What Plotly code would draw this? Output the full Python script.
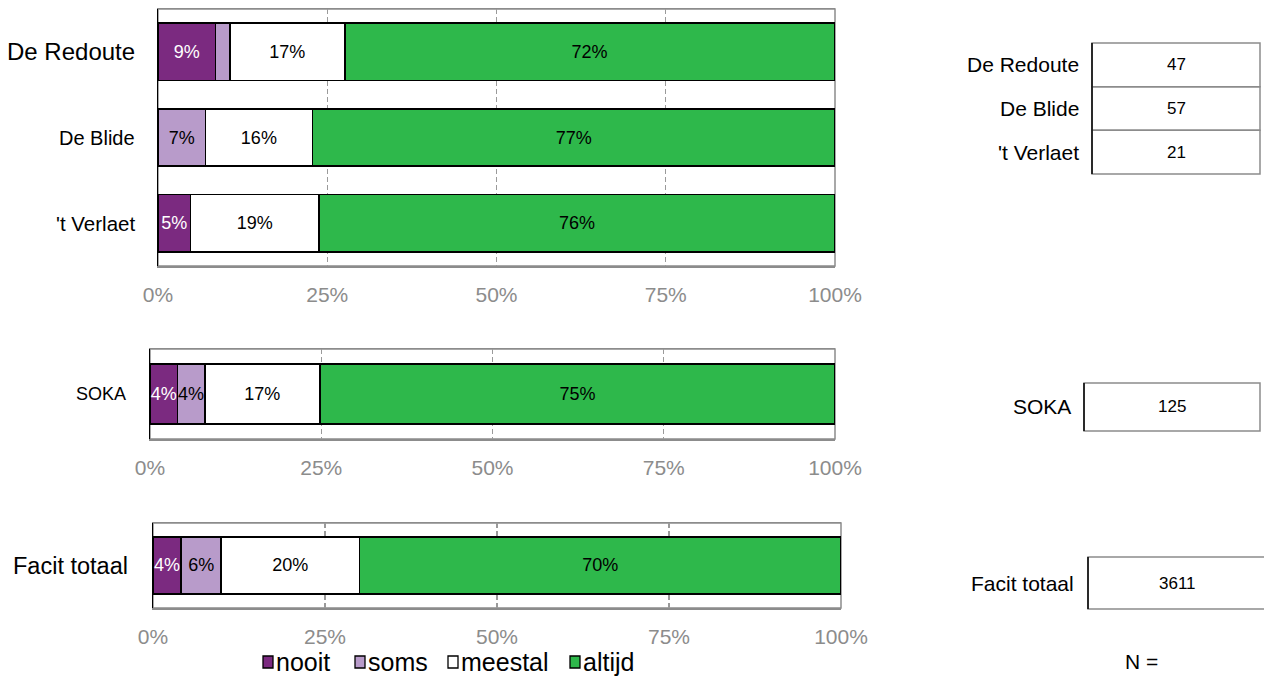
import plotly.graph_objects as go

# ---------------- data ----------------
series = ["nooit", "soms", "meestal", "altijd"]

groups_top = ["De Redoute", "De Blide", "'t Verlaet"]
top_nooit = [8.5, 0.0, 4.8]
top_soms = [2.1, 7.0, 0.0]
top_meestal = [17.0, 15.8, 19.0]
top_altijd = [72.3, 77.2, 76.2]

groups_soka = ["SOKA"]
soka_nooit = [4.0]
soka_soms = [4.0]
soka_meestal = [16.8]
soka_altijd = [75.2]

groups_facit = ["Facit totaal"]
facit_nooit = [4.1]
facit_soms = [5.8]
facit_meestal = [20.1]
facit_altijd = [70.0]

n_top = [47, 57, 21]
n_soka = [125]
n_facit = [3611]

tick_vals = [0, 25, 50, 75, 100]
tick_text = ["0%", "25%", "50%", "75%", "100%"]

# ---------------- style ----------------
colors = ["#7B2A80", "#B89BCA", "#FFFFFF", "#2EB84B"]
text_colors = ["white", "black", "black", "black"]
FONT = "Liberation Sans, Arial, sans-serif"
label_sizes = {"De Redoute": 24, "De Blide": 20, "'t Verlaet": 20.5,
               "SOKA": 18, "Facit totaal": 23.5}

W, H = 1264, 695
def px(x):
    return x / W
def py(y):
    return 1 - y / H

fig = go.Figure()

panels = [
    (groups_top, [top_nooit, top_soms, top_meestal, top_altijd], "", 21),
    (groups_soka, [soka_nooit, soka_soms, soka_meestal, soka_altijd], "2", 22),
    (groups_facit, [facit_nooit, facit_soms, facit_meestal, facit_altijd], "3", 23),
]

def lab(v):
    return f"{round(v + 1e-9):.0f}%" if v >= 3 else ""

annotations = []
for pi, (cats, vals, sx, gap) in enumerate(panels):
    for si, name in enumerate(series):
        fig.add_trace(go.Bar(
            y=cats, x=vals[si], orientation="h", name=name,
            marker=dict(color=colors[si], line=dict(color="black", width=1.5)),
            text=[lab(v) for v in vals[si]],
            textposition="inside", insidetextanchor="middle", textangle=0,
            insidetextfont=dict(color=text_colors[si], size=18, family=FONT),
            xaxis="x" + sx, yaxis="y" + sx, showlegend=False,
            hoverinfo="skip",
        ))
    for c in cats:
        annotations.append(dict(xref=f"x{sx} domain", yref="y" + sx, x=0, y=c,
                                xshift=-gap, xanchor="right", yanchor="middle",
                                text=c, showarrow=False,
                                font=dict(size=label_sizes[c], color="black", family=FONT)))

frame_col = "#8C8C8C"
axis_common_x = dict(range=[0, 100], tickvals=tick_vals, ticktext=tick_text,
                     showgrid=True, gridcolor="#9A9A9A", griddash="5px,3px", gridwidth=1.3,
                     showline=True, linecolor=frame_col, linewidth=1.5, mirror=True,
                     ticks="", ticklabelstandoff=9, zeroline=False, automargin=False,
                     tickfont=dict(size=21, color="#8C8C8C", family=FONT),
                     fixedrange=True)
axis_common_y = dict(showline=True, linecolor="black", linewidth=1.5, ticks="",
                     showticklabels=False, showgrid=False, autorange="reversed",
                     automargin=False, fixedrange=True)

doms = [
    ([px(158), px(835)], [py(266), py(9)]),
    ([px(150), px(835)], [py(439), py(349)]),
    ([px(153), px(841)], [py(608), py(523)]),
]

layout_axes = {}
for i, (dx, dy) in enumerate(doms):
    sx = "" if i == 0 else str(i + 1)
    layout_axes[f"xaxis{sx}"] = dict(domain=dx, anchor=f"y{sx}", **axis_common_x)
    layout_axes[f"yaxis{sx}"] = dict(domain=dy, anchor=f"x{sx}", **axis_common_y)

shapes = []
for i in range(3):
    sx = "" if i == 0 else str(i + 1)
    shapes.append(dict(type="rect", xref=f"x{sx} domain", yref=f"y{sx} domain",
                       x0=0, x1=1, y0=0, y1=1, line=dict(color=frame_col, width=1.5),
                       layer="below"))

# N tables
def table(labels, values, x0, x1, y0, y1, label_right):
    rows = len(values)
    h = (y1 - y0) / rows
    for r in range(rows):
        ry0 = y0 + r * h
        ry1 = ry0 + h
        shapes.append(dict(type="rect", xref="paper", yref="paper",
                           x0=px(x0), x1=px(x1), y0=py(ry1), y1=py(ry0),
                           line=dict(color=frame_col, width=1.5)))
        annotations.append(dict(xref="paper", yref="paper", x=px((x0 + x1) / 2),
                                y=py((ry0 + ry1) / 2), text=str(values[r]), showarrow=False,
                                font=dict(size=17, color="black", family=FONT),
                                xanchor="center", yanchor="middle"))
        annotations.append(dict(xref="paper", yref="paper", x=px(label_right),
                                y=py((ry0 + ry1) / 2), text=labels[r], showarrow=False,
                                font=dict(size=21, color="black", family=FONT),
                                xanchor="right", yanchor="middle"))
    shapes.append(dict(type="line", xref="paper", yref="paper",
                       x0=px(x0), x1=px(x0), y0=py(y1), y1=py(y0),
                       line=dict(color="black", width=1.5)))

table(groups_top, n_top, 1092, 1260, 43, 174, 1081)
table(groups_soka, n_soka, 1084, 1260, 383, 431, 1073)
table(groups_facit, n_facit, 1088, 1266, 557, 609, 1076)

annotations.append(dict(xref="paper", yref="paper", x=px(1141), y=py(661), text="N =",
                        showarrow=False, font=dict(size=21, color="black", family=FONT),
                        xanchor="center", yanchor="middle"))

# compact legend (Excel-like)
legend_x = [263, 355, 448, 570]
legend_y = 662
for si, name in enumerate(series):
    x0 = legend_x[si]
    shapes.append(dict(type="rect", xref="paper", yref="paper",
                       x0=px(x0), x1=px(x0 + 10), y0=py(legend_y + 6), y1=py(legend_y - 6),
                       fillcolor=colors[si], line=dict(color="black", width=1.3)))
    annotations.append(dict(xref="paper", yref="paper", x=px(x0 + 11), y=py(legend_y),
                            text=name, showarrow=False, xanchor="left", yanchor="middle",
                            font=dict(size=25, color="black", family=FONT)))

fig.update_layout(
    width=W, height=H,
    margin=dict(l=0, r=0, t=0, b=0, autoexpand=False),
    paper_bgcolor="white", plot_bgcolor="white",
    barmode="stack", bargap=0.33,
    showlegend=False, hovermode=False,
    uniformtext=dict(mode="show", minsize=18),
    shapes=shapes, annotations=annotations,
    **layout_axes,
)

fig.write_html(
    "out.html",
    config={"displayModeBar": False, "staticPlot": True},
    post_script=("document.documentElement.style.margin='0';"
                 "document.documentElement.style.overflow='hidden';"
                 "document.body.style.margin='0';"
                 "document.body.style.overflow='hidden';"),
)
